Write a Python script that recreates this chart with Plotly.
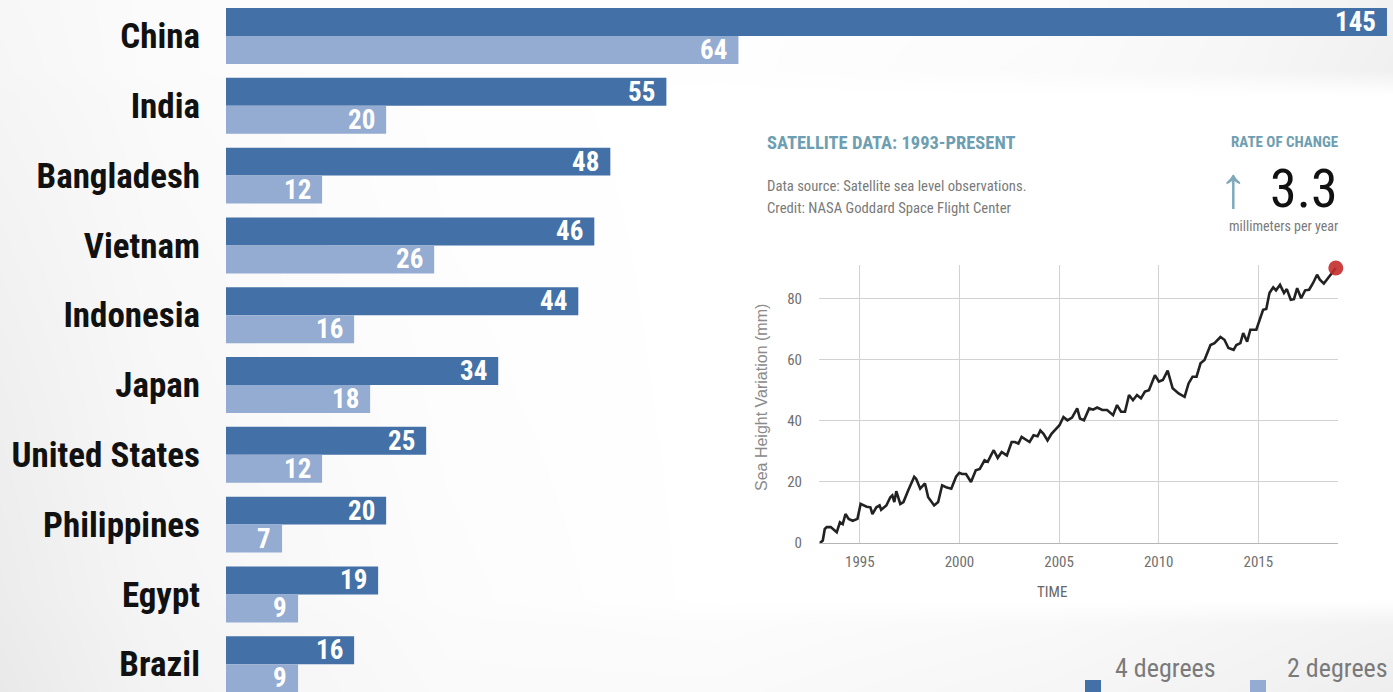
import plotly.graph_objects as go

# ---- bar chart data: people exposed (millions) under two warming scenarios ----
countries = ["China", "India", "Bangladesh", "Vietnam", "Indonesia", "Japan",
             "United States", "Philippines", "Egypt", "Brazil"]
four_deg = [145, 55, 48, 46, 44, 34, 25, 20, 19, 16]
two_deg = [64, 20, 12, 26, 16, 18, 12, 7, 9, 9]
series_names = ["4 degrees<br>Celsius", "2 degrees<br>Celsius"]

# ---- satellite sea level record (mm), 1993 to present ----
sea_years = [1993.00, 1993.14, 1993.24, 1993.34, 1993.54, 1993.74, 1993.84, 1994.00, 1994.14, 1994.28,
             1994.44, 1994.64, 1994.88, 1995.04, 1995.34, 1995.53, 1995.63, 1995.83, 1995.99, 1996.07,
             1996.33, 1996.53, 1996.63, 1996.73, 1996.83, 1997.03, 1997.19, 1997.43, 1997.73, 1997.83,
             1998.03, 1998.27, 1998.43, 1998.73, 1998.93, 1999.13, 1999.33, 1999.59, 1999.83, 1999.99,
             2000.13, 2000.33, 2000.58, 2000.82, 2001.02, 2001.26, 2001.42, 2001.58, 2001.72, 2001.92,
             2002.12, 2002.38, 2002.62, 2002.78, 2002.96, 2003.12, 2003.32, 2003.52, 2003.72, 2003.92,
             2004.06, 2004.22, 2004.42, 2004.62, 2004.86, 2005.02, 2005.22, 2005.42, 2005.65, 2005.91,
             2006.05, 2006.25, 2006.51, 2006.71, 2006.91, 2007.17, 2007.41, 2007.71, 2007.91, 2008.11,
             2008.31, 2008.51, 2008.71, 2008.91, 2009.11, 2009.31, 2009.51, 2009.81, 2010.01, 2010.21,
             2010.45, 2010.70, 2011.00, 2011.30, 2011.50, 2011.70, 2011.90, 2012.10, 2012.30, 2012.60,
             2012.80, 2013.10, 2013.30, 2013.50, 2013.76, 2013.90, 2014.10, 2014.24, 2014.44, 2014.60,
             2014.90, 2015.04, 2015.24, 2015.40, 2015.56, 2015.75, 2015.89, 2016.09, 2016.29, 2016.43,
             2016.63, 2016.79, 2016.95, 2017.15, 2017.35, 2017.55, 2017.75, 2017.95, 2018.09, 2018.29,
             2018.49, 2018.69, 2018.89]
sea_mm = [0.0, 0.8, 4.6, 5.2, 5.2, 4.0, 3.5, 6.8, 6.2, 9.5,
          7.9, 7.3, 7.9, 12.8, 11.9, 11.7, 9.5, 11.7, 12.3, 10.9,
          12.3, 15.0, 15.6, 13.4, 17.0, 12.8, 13.4, 17.3, 21.7, 21.0,
          17.8, 19.5, 15.0, 12.3, 13.4, 18.9, 18.3, 17.8, 21.7, 23.0,
          22.6, 22.6, 20.0, 23.8, 24.3, 27.1, 26.6, 28.7, 30.4, 27.9,
          29.8, 28.7, 33.1, 33.1, 32.6, 34.8, 33.9, 33.1, 35.3, 35.0,
          36.9, 35.8, 33.6, 35.8, 37.5, 38.6, 41.3, 40.2, 41.1, 44.1,
          40.8, 40.2, 44.1, 43.7, 44.4, 43.6, 43.6, 41.9, 45.2, 43.0,
          43.0, 48.5, 46.8, 48.5, 47.4, 49.6, 50.1, 55.0, 52.9, 53.4,
          56.5, 50.7, 49.0, 47.9, 52.3, 54.5, 54.5, 58.9, 60.0, 64.9,
          65.5, 67.5, 66.6, 63.9, 63.3, 64.9, 65.5, 68.8, 66.0, 69.9,
          69.9, 72.5, 76.4, 76.7, 81.9, 83.8, 82.8, 84.6, 81.9, 83.2,
          79.7, 79.9, 83.5, 80.2, 82.8, 83.0, 85.2, 87.9, 86.3, 85.0,
          86.8, 88.2, 90.1]

year_ticks = [1995, 2000, 2005, 2010, 2015]
mm_ticks = [0, 20, 40, 60, 80]

# ---- page backdrop shading (gray levels on a pixel grid, padded past the edges) ----
bg_x = [-200, 0, 150, 450, 720, 1050, 1250, 1393, 1600]
bg_y = [-200, 0, 70, 95, 400, 600, 625, 692, 900]
_core = [[247, 251, 254, 254, 252, 247, 242],
         [246, 251, 254, 254, 251, 246, 240],
         [245, 250, 254, 255, 255, 255, 255],
         [239, 247, 253, 255, 255, 255, 255],
         [236, 245, 252, 255, 255, 255, 255],
         [235, 244, 251, 252, 249, 245, 242],
         [233, 243, 250, 250, 246, 242, 238]]
_rows = [[r[0]] + r + [r[-1]] for r in _core]
bg_z = [_rows[0]] + _rows + [_rows[-1]]

W, H = 1393, 692


def px(x):
    return x / W


def py(y):
    return 1 - y / H


NARROW = ("Roboto Condensed, Nimbus Sans Narrow, Liberation Sans Narrow, "
          "Arial Narrow, DejaVu Sans Condensed, sans-serif")
SANS = "Liberation Sans, Arial, sans-serif"
DARK = "#4371a7"
LIGHT = "#94abd2"
TEAL = "#6d9eb1"
GRAY_TXT = "#7a7a7a"

fig = go.Figure()

fig.add_trace(go.Heatmap(
    x=bg_x, y=bg_y, z=bg_z, zsmooth="best", zmin=230, zmax=255,
    colorscale=[[0, "rgb(230,230,230)"], [1, "rgb(255,255,255)"]],
    showscale=False, hoverinfo="skip", xaxis="x", yaxis="y"))

for vals, color, name in ((four_deg, DARK, series_names[0]), (two_deg, LIGHT, series_names[1])):
    fig.add_trace(go.Bar(
        y=countries, x=vals, orientation="h", name=name,
        marker=dict(color=color, line=dict(width=0)), xaxis="x2", yaxis="y2"))

fig.add_trace(go.Scatter(
    x=sea_years, y=sea_mm, mode="lines", line=dict(color="#222222", width=2.6),
    hoverinfo="skip", xaxis="x3", yaxis="y3"))
fig.add_trace(go.Scatter(
    x=[sea_years[-1]], y=[sea_mm[-1]], mode="markers",
    marker=dict(color="rgba(196,44,44,0.9)", size=15, line=dict(width=0)),
    cliponaxis=False, hoverinfo="skip", xaxis="x3", yaxis="y3"))

annotations = []
shapes = []

# value labels inside the bars
for c, v4, v2 in zip(countries, four_deg, two_deg):
    for v, shift in ((v4, 14), (v2, -14)):
        annotations.append(dict(
            x=v, y=c, xref="x2", yref="y2", text=str(v), showarrow=False,
            xanchor="right", yanchor="middle", xshift=-9, yshift=shift,
            font=dict(family=NARROW, size=27, color="white", weight="bold")))


def note(text, x, y, size, color, family=NARROW, weight="normal", xanchor="left",
         yanchor="middle", angle=0):
    annotations.append(dict(
        x=px(x), y=py(y), xref="paper", yref="paper", text=text, showarrow=False,
        xanchor=xanchor, yanchor=yanchor, textangle=angle, align="left",
        font=dict(family=family, size=size, color=color, weight=weight)))


note("SATELLITE DATA: 1993-PRESENT", 765, 143, 18.5, TEAL, weight="bold")
note("Data source: Satellite sea level observations.", 765, 186, 14.7, GRAY_TXT)
note("Credit: NASA Goddard Space Flight Center", 765, 208, 14.7, GRAY_TXT)
note("RATE OF CHANGE", 1340, 142, 15, TEAL, weight="bold", xanchor="right")
note("↑", 1250, 186, 58, "#7fa9ba", family=SANS, xanchor="right")
note("3.3", 1340, 188, 54, "#111111", xanchor="right")
note("millimeters per year", 1340, 226, 14, GRAY_TXT, xanchor="right")
note("TIME", 1052, 592, 15, "#666666", xanchor="center")
note("Sea Height Variation (mm)", 761, 398, 16, "#8a8a8a", family=SANS,
     xanchor="center", angle=-90)

# key: swatches with two-line captions running off the bottom edge
for name, color, sx, tx in ((series_names[0], DARK, 1085, 1113), (series_names[1], LIGHT, 1250, 1285)):
    shapes.append(dict(type="rect", xref="paper", yref="paper",
                       x0=px(sx), x1=px(sx + 16), y0=py(697), y1=py(680),
                       fillcolor=color, line=dict(width=0), layer="above"))
    note(name, tx, 651, 26, GRAY_TXT, yanchor="top")

fig.update_layout(
    width=W, height=H, autosize=False,
    margin=dict(l=0, r=0, t=0, b=0, pad=0, autoexpand=False),
    paper_bgcolor="white", plot_bgcolor="rgba(0,0,0,0)",
    barmode="group", bargap=0.198, bargroupgap=0,
    hovermode=False,
    showlegend=False,
    xaxis=dict(domain=[0, 1], range=[0, W], visible=False, fixedrange=True, automargin=False),
    yaxis=dict(domain=[0, 1], range=[H, 0], visible=False, fixedrange=True, automargin=False),
    xaxis2=dict(domain=[226 / W, 1], range=[0, 145.75], anchor="y2",
                visible=False, fixedrange=True, automargin=False),
    yaxis2=dict(domain=[0, 1], anchor="x2", type="category",
                categoryorder="array", categoryarray=countries,
                range=[9.398, -0.516], showgrid=False, zeroline=False,
                showline=False, ticks="", ticklabelstandoff=25, automargin=False,
                tickfont=dict(family=NARROW, size=35, color="#111111", weight="bold"),
                fixedrange=True),
    xaxis3=dict(domain=[819 / W, 1338 / W], range=[1992.95, 2019.0], anchor="y3",
                tickvals=year_ticks, showgrid=True, gridcolor="#d2d2d2", gridwidth=1,
                zeroline=False, showline=False, ticks="", ticklabelstandoff=8,
                automargin=False,
                tickfont=dict(family=NARROW, size=15, color="#707070"), fixedrange=True),
    yaxis3=dict(domain=[py(543), py(265)], range=[0, 91.1], anchor="x3",
                tickvals=mm_ticks, showgrid=True, gridcolor="#d2d2d2", gridwidth=1,
                zeroline=True, zerolinecolor="#b5b5b5", zerolinewidth=1,
                showline=False, ticks="", ticklabelstandoff=16, automargin=False,
                tickfont=dict(family=NARROW, size=15, color="#707070"), fixedrange=True),
    annotations=annotations,
    shapes=shapes,
)

fig.write_html("out.html")
